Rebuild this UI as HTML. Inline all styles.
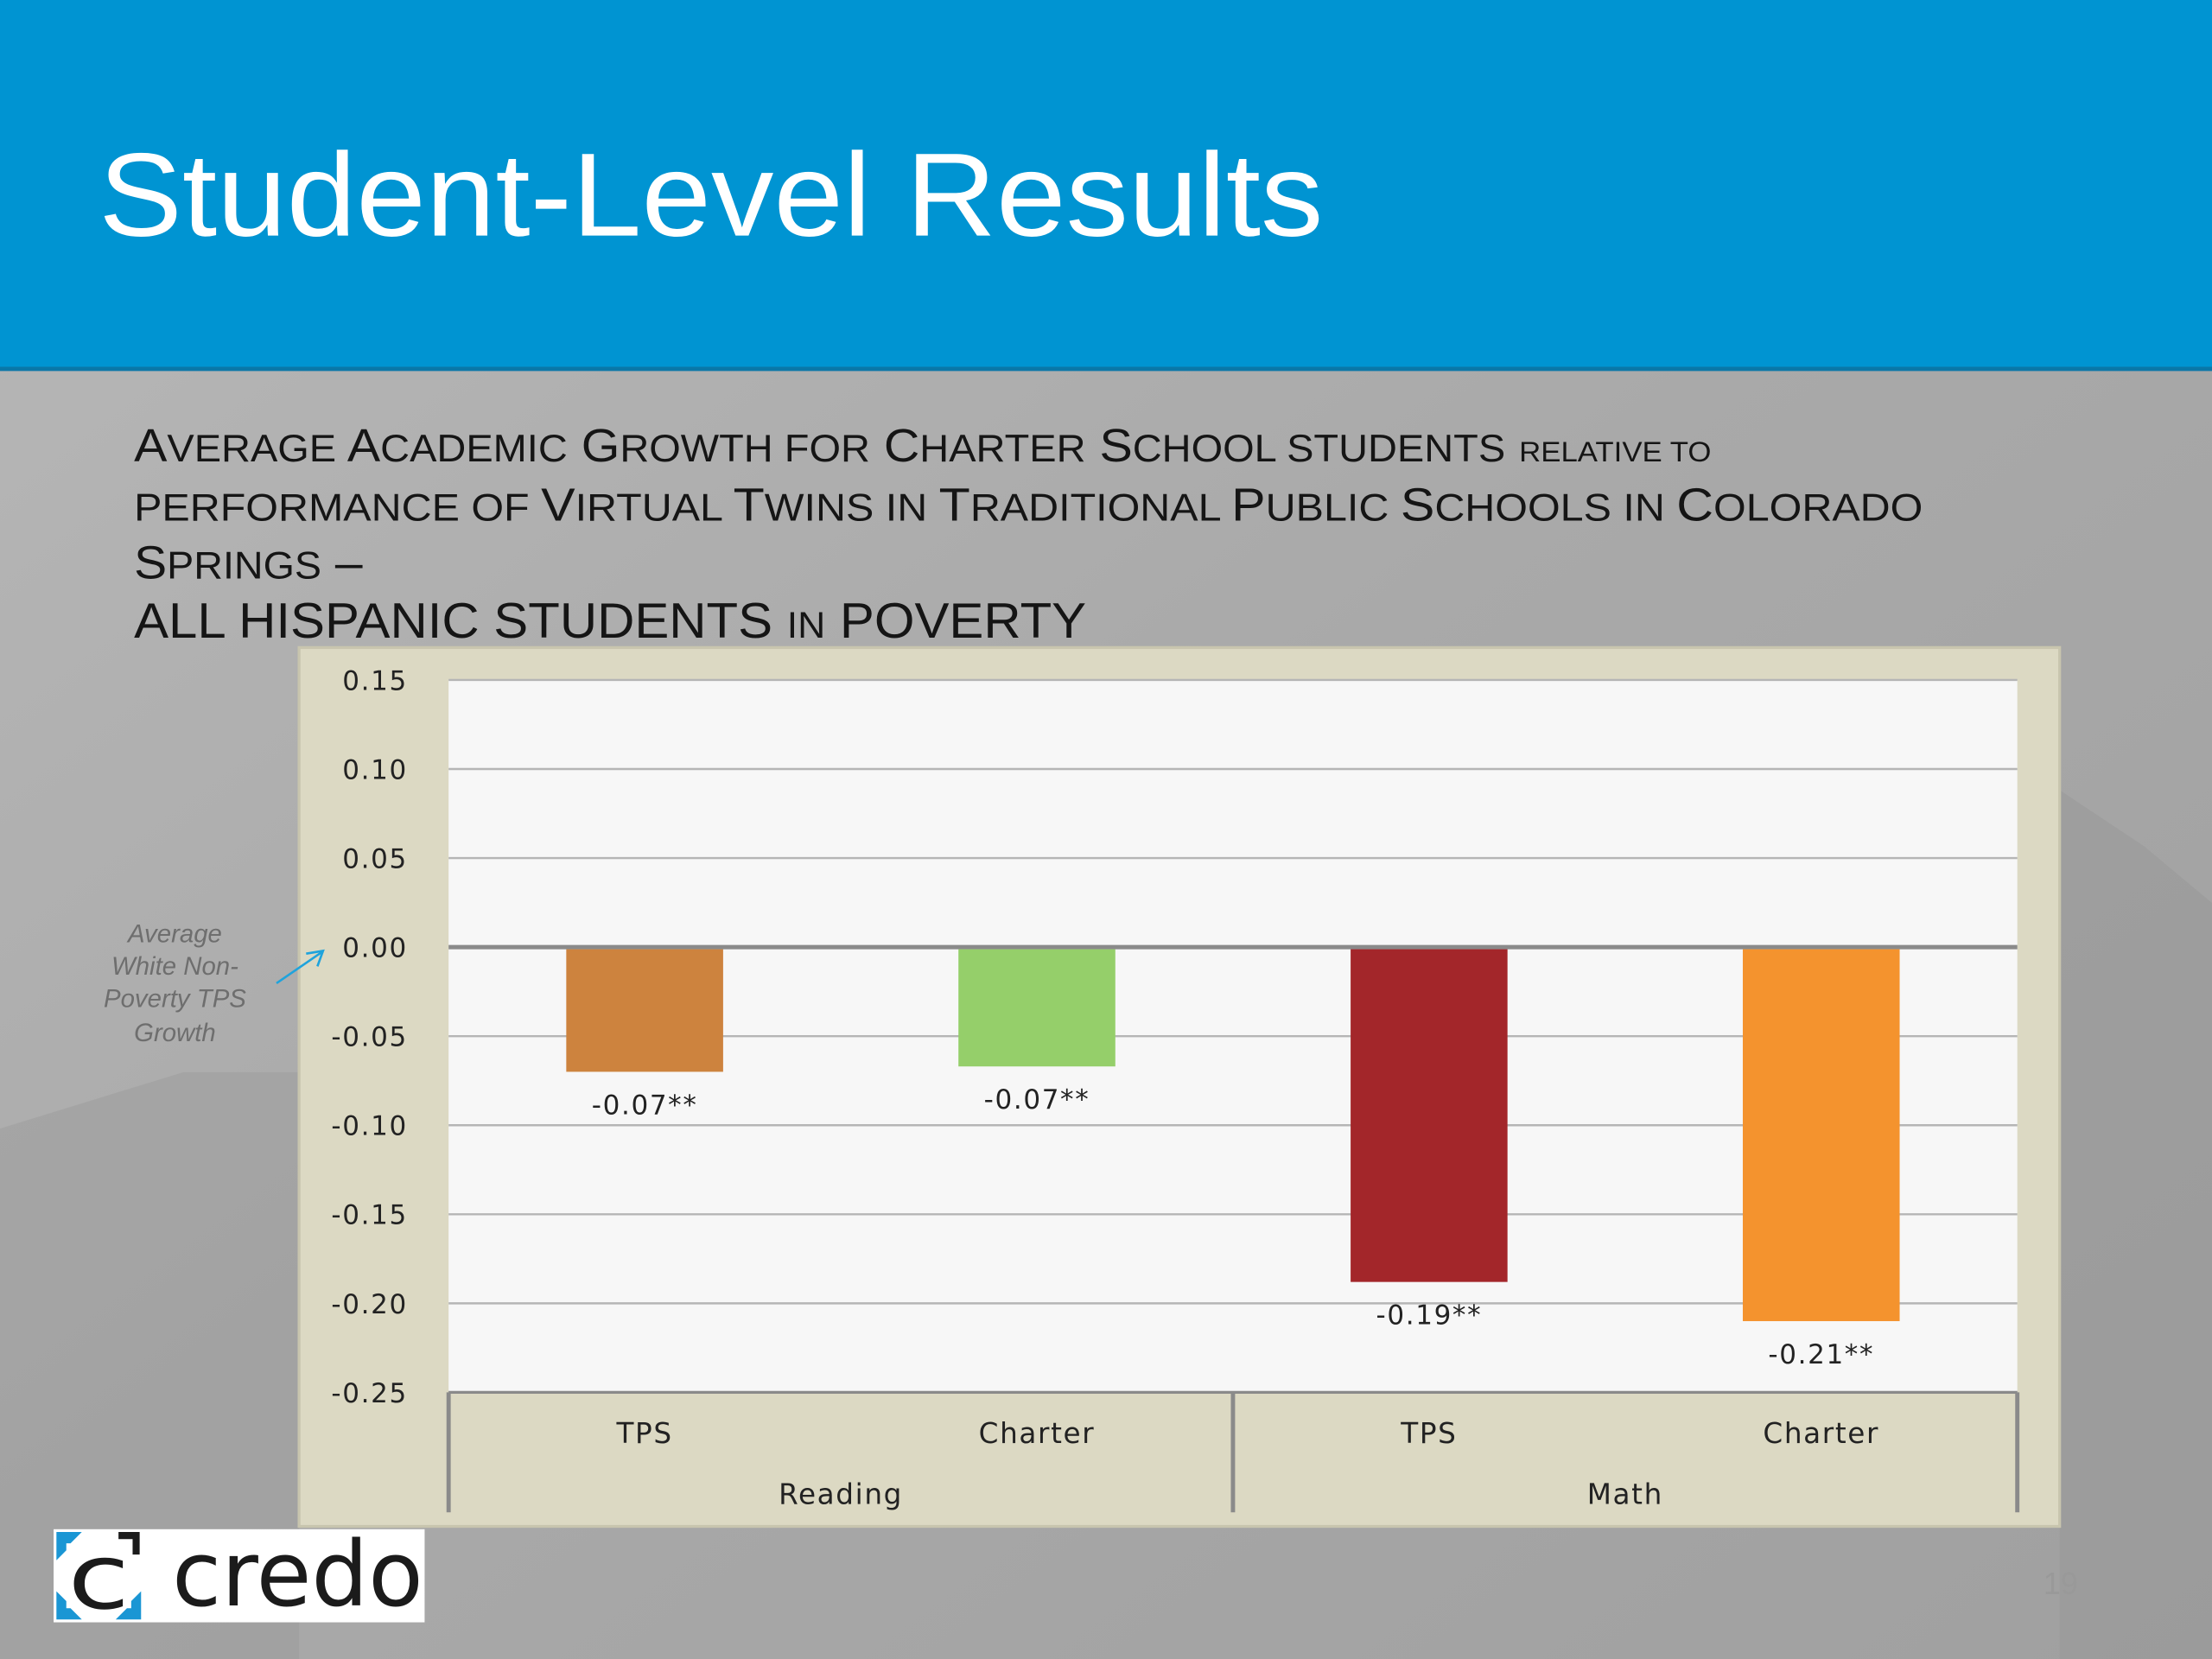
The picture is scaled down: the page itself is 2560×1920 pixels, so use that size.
<!DOCTYPE html>
<html><head><meta charset="utf-8"><style>
html,body{margin:0;padding:0;width:2560px;height:1920px;overflow:hidden;background:#a9a9a9}
svg{display:block}
</style></head><body>
<svg width="2560" height="1920" viewBox="0 0 1568 1176" xmlns="http://www.w3.org/2000/svg" font-family="Liberation Sans,sans-serif">
<defs>
<linearGradient id="bg" x1="0" y1="0" x2="1" y2="1">
<stop offset="0" stop-color="#b8b8b8"/><stop offset="0.5" stop-color="#a9a9a9"/><stop offset="1" stop-color="#a0a0a0"/>
</linearGradient>
</defs>
<rect x="0" y="0" width="1568" height="1176" fill="url(#bg)"/>
<polygon points="0,800 130,760 212,760 212,1176 0,1176" fill="#959595" opacity="0.35"/>
<polygon points="1460,560 1520,600 1568,640 1568,1176 1460,1176" fill="#939393" opacity="0.35"/>
<rect x="0" y="0" width="1568" height="262" fill="#0094d2"/>
<rect x="0" y="260" width="1568" height="3" fill="#0a77a8"/>
<text x="70" y="167" font-size="84" fill="#ffffff" textLength="868" lengthAdjust="spacingAndGlyphs">Student-Level Results</text>
<g fill="#151515">
<text x="95" y="327" font-size="33" textLength="1118" lengthAdjust="spacingAndGlyphs">A<tspan font-size="27">VERAGE</tspan> A<tspan font-size="27">CADEMIC</tspan> G<tspan font-size="27">ROWTH FOR</tspan> C<tspan font-size="27">HARTER</tspan> S<tspan font-size="27">CHOOL STUDENTS</tspan> <tspan font-size="20">RELATIVE TO</tspan></text>
<text x="95" y="369" font-size="27" textLength="1268" lengthAdjust="spacingAndGlyphs">PERFORMANCE OF <tspan font-size="33">V</tspan>IRTUAL <tspan font-size="33">T</tspan>WINS IN <tspan font-size="33">T</tspan>RADITIONAL <tspan font-size="33">P</tspan>UBLIC <tspan font-size="33">S</tspan>CHOOLS IN <tspan font-size="33">C</tspan>OLORADO</text>
<text x="95" y="410" font-size="33" textLength="162" lengthAdjust="spacingAndGlyphs">S<tspan font-size="27">PRINGS</tspan> –</text>
<text x="95" y="452" font-size="35" textLength="675" lengthAdjust="spacingAndGlyphs">ALL HISPANIC STUDENTS <tspan font-size="26">IN</tspan> POVERTY</text>
</g>
<rect x="212" y="459" width="1248" height="623" fill="#dcd9c3" stroke="#c8c5ae" stroke-width="2"/>
<rect x="318" y="482" width="1112" height="505" fill="#f7f7f7"/>
<g id="grid"></g>
<g id="bars"></g>
<g id="axes"></g>
<g>
<text font-size="18" font-style="italic" fill="#6e6e6e" text-anchor="middle">
<tspan x="124" y="668">Average</tspan><tspan x="124" y="691">White Non-</tspan><tspan x="124" y="714">Poverty TPS</tspan><tspan x="124" y="738">Growth</tspan></text>
<line x1="196" y1="697" x2="228" y2="675" stroke="#1fa3dc" stroke-width="1.6"/>
<polyline points="217,676 229,674 225,685" fill="none" stroke="#1fa3dc" stroke-width="1.6"/>
</g>
<g>
<rect x="38" y="1084" width="263" height="66" fill="#ffffff"/>
<path d="M40,1086 h18 l-8,8 h-3 v5 l-7,7 z M40,1148 h18 l-8,-8 h-3 v-5 l-7,-7 z M100,1148 h-18 l8,-8 h3 v-5 l7,-7 z" fill="#1a96d4"/>
<path d="M84,1086 h15 v16 h-5 v-11 h-10 z" fill="#1b1b1b"/>
<text x="48" y="1140" font-size="64" fill="#1b1b1b" font-family="DejaVu Sans,sans-serif" textLength="44" lengthAdjust="spacingAndGlyphs">c</text>
<text x="122" y="1138" font-size="64" fill="#1b1b1b" font-family="DejaVu Sans,sans-serif" textLength="178" lengthAdjust="spacingAndGlyphs">credo</text>
</g>
<text x="1473" y="1130" font-size="22" fill="#999" text-anchor="end">19</text>
</svg>
<script>
const categories = ["TPS","Charter","TPS","Charter"];
const groups = ["Reading","Math"];
const values = [-0.07,-0.067,-0.188,-0.21];
const valueLabels = ["-0.07**","-0.07**","-0.19**","-0.21**"];
const colors = ["#cd833e","#95cf6a","#a3262a","#f4932e"];
const ticks = [0.15,0.10,0.05,0.00,-0.05,-0.10,-0.15,-0.20,-0.25];
const tickLabels = ["0.15","0.10","0.05","0.00","-0.05","-0.10","-0.15","-0.20","-0.25"];
const NS="http://www.w3.org/2000/svg";
const X0=318,X1=1430,YT=482,YB=987,VMAX=0.15,VMIN=-0.25;
const y=v=>YT+(VMAX-v)/(VMAX-VMIN)*(YB-YT);
const band=(X1-X0)/categories.length;
const xc=i=>X0+band*(i+0.5);
function mk(tag,attrs,parent){const e=document.createElementNS(NS,tag);for(const k in attrs)e.setAttribute(k,attrs[k]);parent.appendChild(e);return e;}
const grid=document.getElementById('grid'),bars=document.getElementById('bars'),axes=document.getElementById('axes');
const F='DejaVu Sans,sans-serif';
ticks.forEach((t,i)=>{
  const l=mk('line',{x1:X0,x2:X1,y1:y(t),y2:y(t),stroke:t===0?'#8a8a8a':'#b5b5b5','stroke-width':t===0?3:1.5},grid);
  
  
  const tx=mk('text',{x:289,y:y(t)+7,'font-size':19,fill:'#222','text-anchor':'end','font-family':F,'letter-spacing':1},axes);
  tx.textContent=tickLabels[i];
  
  
});
const bw=band*0.4;
values.forEach((v,i)=>{
  const r=mk('rect',{x:xc(i)-bw/2,y:y(0)+1.5,width:bw,height:Math.max(0,y(v)-y(0)-1.5),fill:colors[i]},bars);
  
  
  const t=mk('text',{x:xc(i),y:y(v)+30,'font-size':19,fill:'#222','text-anchor':'middle','font-family':F,'letter-spacing':1},bars);
  t.textContent=valueLabels[i];
  
  
  const c=mk('text',{x:xc(i),y:1023,'font-size':20,fill:'#222','text-anchor':'middle','font-family':F,'letter-spacing':1},axes);
  c.textContent=categories[i];
  
  
});
const per=categories.length/groups.length;
for(let g=0;g<=groups.length;g++){
  const x=X0+band*per*g;
  const l=mk('line',{x1:x,x2:x,y1:YB,y2:1072,stroke:'#8a8a8a','stroke-width':3},axes);
  
  
}
mk('line',{x1:X0,x2:X1,y1:YB,y2:YB,stroke:'#8a8a8a','stroke-width':2},axes);
groups.forEach((g,i)=>{
  const t=mk('text',{x:X0+band*per*(i+0.5),y:1066,'font-size':20,fill:'#222','text-anchor':'middle','font-family':F,'letter-spacing':1},axes);
  t.textContent=g;
  
  
});
</script>
</body></html>
